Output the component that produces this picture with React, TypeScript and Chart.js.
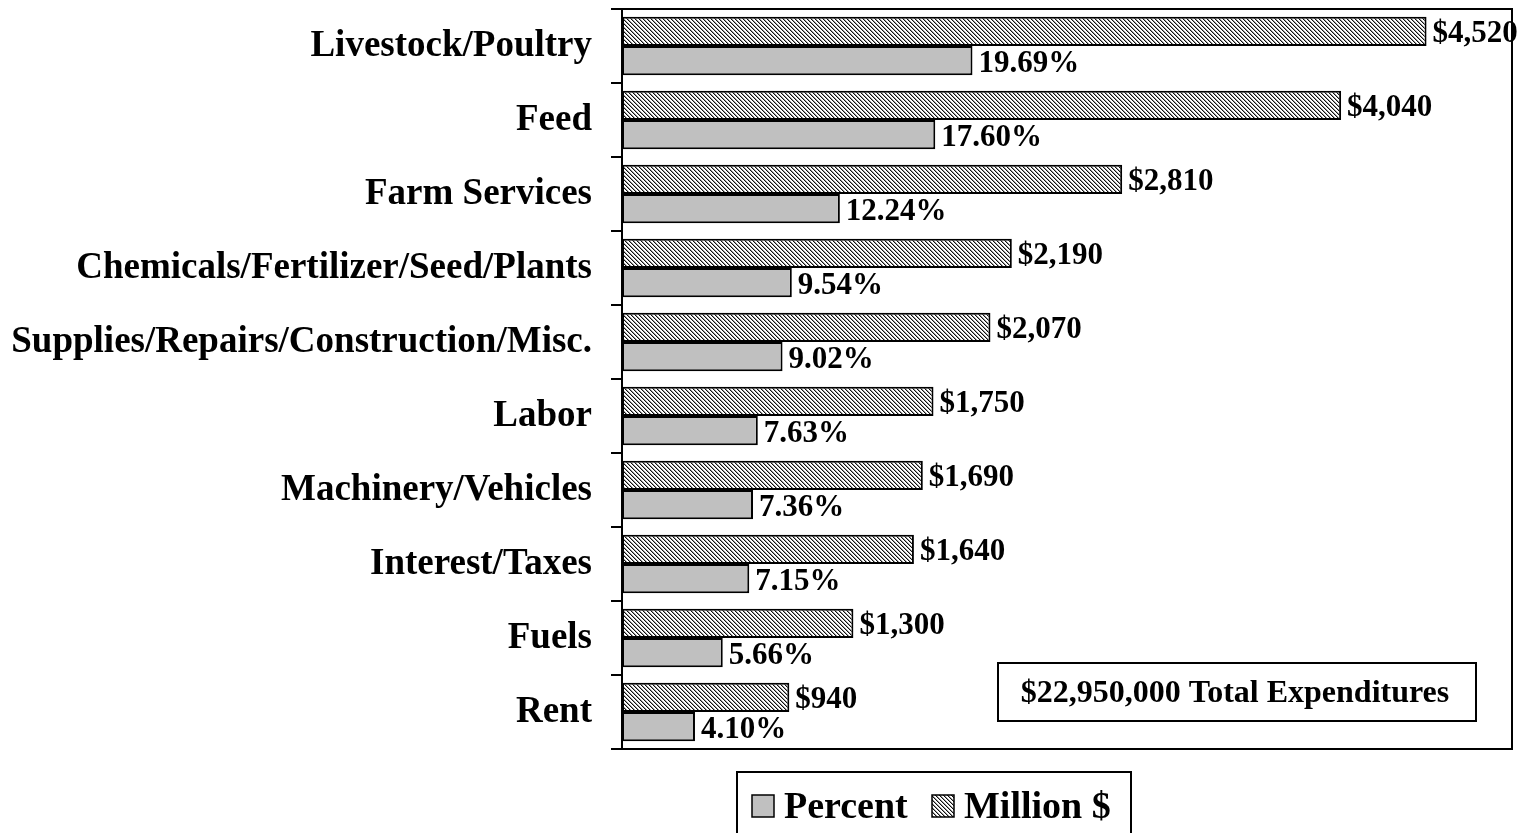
import React, { useEffect, useRef } from "react";
import { Chart, registerables } from "chart.js";

Chart.register(...registerables);

const categories = [
  "Livestock/Poultry",
  "Feed",
  "Farm Services",
  "Chemicals/Fertilizer/Seed/Plants",
  "Supplies/Repairs/Construction/Misc.",
  "Labor",
  "Machinery/Vehicles",
  "Interest/Taxes",
  "Fuels",
  "Rent",
];
const millionDollars = [4520, 4040, 2810, 2190, 2070, 1750, 1690, 1640, 1300, 940];
const percentValues = [19.69, 17.6, 12.24, 9.54, 9.02, 7.63, 7.36, 7.15, 5.66, 4.1];
const seriesNames = ["Million $", "Percent"];
const totalLabel = "$22,950,000 Total Expenditures";
const dollarAxisMax = 5000;
const percentAxisMax = 50;

const FONT = '"Liberation Serif", "Times New Roman", serif';
const GRAY = "#c0c0c0";

function fmtDollar(v: number) {
  return "$" + v.toLocaleString("en-US");
}
function fmtPercent(v: number) {
  return v.toFixed(2) + "%";
}

function makeHatch(ctx: CanvasRenderingContext2D) {
  const c = document.createElement("canvas");
  c.width = 4;
  c.height = 4;
  const g = c.getContext("2d")!;
  g.fillStyle = "#ffffff";
  g.fillRect(0, 0, 4, 4);
  for (let y = 0; y < 4; y++)
    for (let x = 0; x < 4; x++) {
      const k = (((x - y) % 4) + 4) % 4;
      if (k === 0) {
        g.fillStyle = "#111111";
        g.fillRect(x, y, 1, 1);
      } else if (k === 1) {
        g.fillStyle = "#9a9a9a";
        g.fillRect(x, y, 1, 1);
      }
    }
  return ctx.createPattern(c, "repeat")!;
}

export default function App() {
  const ref = useRef<HTMLCanvasElement | null>(null);

  useEffect(() => {
    const canvas = ref.current!;
    const ctx = canvas.getContext("2d")!;
    const hatch = makeHatch(ctx);

    const decor = {
      id: "decor",
      afterDatasetsDraw(chart: any) {
        const c = chart.ctx;
        const area = chart.chartArea;
        c.save();
        // frame (top, right, bottom)
        c.strokeStyle = "#000";
        c.lineWidth = 2;
        c.beginPath();
        c.moveTo(area.left - 11, area.top);
        c.lineTo(area.right, area.top);
        c.lineTo(area.right, area.bottom);
        c.lineTo(area.left - 11, area.bottom);
        c.stroke();

        // data labels
        c.fillStyle = "#000";
        c.font = "bold 31px " + FONT;
        c.textAlign = "left";
        c.textBaseline = "middle";
        chart.data.datasets.forEach((ds: any, di: number) => {
          const meta = chart.getDatasetMeta(di);
          meta.data.forEach((bar: any, i: number) => {
            const v = ds.data[i];
            const txt = di === 0 ? fmtDollar(v) : fmtPercent(v);
            c.fillText(txt, bar.x + 6, bar.y + 3);
          });
        });

        // total box
        c.fillStyle = "#fff";
        c.fillRect(998, 663, 478, 58);
        c.strokeStyle = "#000";
        c.lineWidth = 2;
        c.strokeRect(998, 663, 478, 58);
        c.fillStyle = "#000";
        c.font = "bold 32px " + FONT;
        c.textAlign = "center";
        c.textBaseline = "middle";
        c.fillText(totalLabel, 1235, 694);

        // legend
        c.strokeStyle = "#000";
        c.lineWidth = 2;
        c.strokeRect(737, 772, 394, 90);
        c.lineWidth = 1.5;
        c.fillStyle = GRAY;
        c.fillRect(752, 795, 22, 22);
        c.strokeRect(752, 795, 22, 22);
        c.fillStyle = hatch;
        c.fillRect(932, 795, 22, 22);
        c.strokeRect(932, 795, 22, 22);
        c.fillStyle = "#000";
        c.font = "bold 38px " + FONT;
        c.textAlign = "left";
        c.textBaseline = "alphabetic";
        c.fillText(seriesNames[1], 784, 818);
        c.fillText(seriesNames[0], 964, 818);
        c.restore();
      },
    };

    const chart = new Chart(ctx, {
      type: "bar",
      data: {
        labels: categories,
        datasets: [
          {
            label: seriesNames[0],
            data: millionDollars,
            xAxisID: "x",
            backgroundColor: hatch as any,
            borderColor: "#000",
            borderWidth: 2,
            borderSkipped: false,
          },
          {
            label: seriesNames[1],
            data: percentValues,
            xAxisID: "x2",
            backgroundColor: GRAY,
            borderColor: "#000",
            borderWidth: 2,
            borderSkipped: false,
          },
        ],
      },
      options: {
        indexAxis: "y",
        responsive: false,
        animation: false,
        devicePixelRatio: 1,
        layout: { padding: { left: 0, top: 9, right: 17, bottom: 84 } },
        datasets: {
          bar: { categoryPercentage: 0.79, barPercentage: 1.0 },
        },
        plugins: {
          legend: { display: false },
          tooltip: { enabled: false },
        },
        scales: {
          x: { type: "linear", display: false, min: 0, max: dollarAxisMax },
          x2: { type: "linear", display: false, min: 0, max: percentAxisMax },
          y: {
            type: "category",
            position: "left",
            afterFit(scale: any) {
              scale.width = 622;
              scale.paddingTop = 0;
              scale.paddingBottom = 0;
            },
            border: { display: true, color: "#000", width: 2 },
            grid: {
              display: true,
              drawOnChartArea: false,
              drawTicks: true,
              tickLength: 11,
              color: "#000",
              lineWidth: 2,
              offset: true,
            },
            ticks: {
              color: "#000",
              padding: 19,
              font: { family: FONT, size: 37, weight: "bold" },
            },
          },
        },
      },
      plugins: [decor],
    } as any);

    return () => chart.destroy();
  }, []);

  return (
    <div style={{ position: "fixed", left: 0, top: 0, width: 1529, height: 833, background: "#fff" }}>
      <canvas ref={ref} width={1529} height={833} style={{ display: "block" }} />
    </div>
  );
}
